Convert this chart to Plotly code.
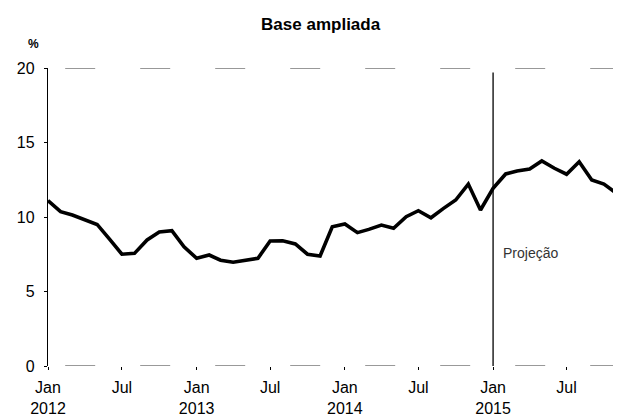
import plotly.graph_objects as go
import pandas as pd

months = pd.date_range("2012-01-01", "2015-11-01", freq="MS").strftime("%Y-%m-%d").tolist()
values = [11.1, 10.36, 10.13, 9.8, 9.5, 8.5, 7.5, 7.56, 8.46, 9.0, 9.08, 8.0,
          7.23, 7.45, 7.1, 6.96, 7.07, 7.23, 8.39, 8.41, 8.19, 7.5, 7.38, 9.35,
          9.53, 8.95, 9.17, 9.46, 9.24, 10.02, 10.42, 9.95, 10.58, 11.14, 12.21, 10.47,
          11.93, 12.89, 13.09, 13.22, 13.76, 13.27, 12.87, 13.71, 12.48, 12.21, 11.59]

tick_dates = ["2012-01-01", "2012-07-01", "2013-01-01", "2013-07-01",
              "2014-01-01", "2014-07-01", "2015-01-01", "2015-07-01"]
tick_text = ["Jan<br>2012", "Jul", "Jan<br>2013", "Jul",
             "Jan<br>2014", "Jul", "Jan<br>2015", "Jul"]
y_ticks = [0, 5, 10, 15, 20]
proj_start = "2015-01-01"
title = "Base ampliada"
proj_label = "Projeção"

fig = go.Figure()
fig.add_trace(go.Scatter(x=months, y=values, mode="lines",
                         line=dict(color="black", width=3.6), showlegend=False,
                         hoverinfo="skip"))

fig.add_shape(type="line", xref="x", yref="y", x0=proj_start, x1=proj_start,
              y0=0, y1=19.7, line=dict(color="black", width=1.3))
# top and bottom frame lines (faded in the scan)
for yv in [0, 20]:
    fig.add_shape(type="line", xref="paper", yref="y", x0=0.03, x1=0.99,
                  y0=yv, y1=yv, line=dict(color="#333", width=1, dash="30px,45px"))

fig.add_annotation(x="2015-01-20", y=7.6, xref="x", yref="y", text=proj_label,
                   showarrow=False, xanchor="left", yanchor="middle",
                   font=dict(family="Liberation Sans, Arial", size=14, color="#333"))
fig.add_annotation(x=-0.026, y=1.08, xref="paper", yref="paper", text="<b>%</b>",
                   showarrow=False, xanchor="center", yanchor="middle",
                   font=dict(family="Liberation Sans, Arial", size=12, color="black"))

fig.update_layout(
    width=613, height=410,
    margin=dict(l=40, r=0, t=60, b=52),
    paper_bgcolor="white", plot_bgcolor="white",
    title=dict(text="<b>" + title + "</b>", x=0.51, xanchor="center", y=0.96, yanchor="middle",
               font=dict(family="Liberation Sans, Arial", size=17, color="black")),
    font=dict(family="Liberation Sans, Arial", size=16, color="black"),
    xaxis=dict(range=["2012-01-01", "2015-11-12"], tickmode="array",
               tickvals=tick_dates, ticktext=tick_text, showgrid=False,
               zeroline=False, showline=False, ticks="outside", ticklen=3,
               tickcolor="black", tickfont=dict(size=16), ticklabelstandoff=4),
    yaxis=dict(range=[0, 20], tickmode="array", tickvals=y_ticks, showgrid=False,
               zeroline=False, showline=True, linecolor="black", linewidth=1.3,
               ticks="outside", ticklen=3, tickcolor="black", tickfont=dict(size=16),
               ticklabelstandoff=6),
)

fig.write_html("out.html")
